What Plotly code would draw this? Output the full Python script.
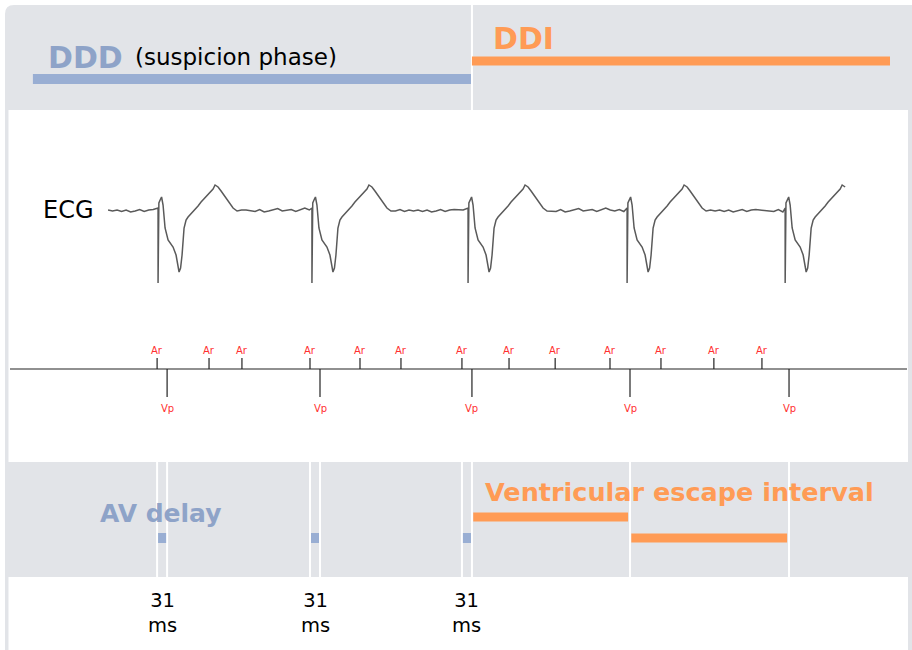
import plotly.graph_objects as go

# ---------------- data ----------------
# marker times (ms)
ar_times_ms = [456, 617, 719, 930, 1085, 1212, 1401, 1547, 1690, 1860, 2018, 2182, 2331]
vp_times_ms = [487, 961, 1432, 1922, 2415]
# AV delays (DDD phase): atrial sense -> ventricular pace
av_start_ms = [456, 930, 1401]
av_delay_ms = [31, 31, 31]
# pacing mode segments
mode_names = ["DDD", "DDI"]
mode_start_ms = [71, 1432]
mode_end_ms = [1429, 2728]
# ventricular escape intervals (DDI phase)
vei_start_ms = [1432, 1922]
vei_end_ms = [1922, 2415]

# ECG: pacing spike times and one beat morphology (offset ms, amplitude a.u.)
ecg_spike_ms = [459, 936, 1420, 1913, 2403]
ecg_start_ms = 304
ecg_end_ms = 2598
beat_offset_ms = [0, 0, 2.5, 7.8, 10.9, 15.5, 21.7, 31, 40.3, 46.5, 55.8, 62, 65.1, 69.8,
                  74.4, 80.6, 86.8, 93, 102.3, 111.6, 124, 133.3, 145.7, 158.1, 170.5,
                  176.7, 186, 195.3, 207.7, 220.1, 232.5, 244.9]
beat_amp = [2, -73, 7, 11, 13, 5, -18, -30, -34, -37, -45, -55, -62, -58,
            -45, -18, -10, -7, -4, -1, 4, 8, 12, 17, 21,
            25, 23, 19, 13, 7, 2, -1]
baseline_wiggle = [0, -1, 0, -1.5, 0, -2, -1, 0.5, -1.5, 0, 0.5, 0, 0, -1, -1.5, 0.5,
                   -2, -1, 0, 1.5, -1, 0, 0.5, -1.5, 0, 2, 0, -1, 0.5, -1.5]
wiggle_step_ms = 14

# ---------------- styling ----------------
W, H = 912, 650
GRAY = "#e2e4e8"
BLUE = "#99aed3"
BLUE_TXT = "#8ea3c8"
ORANGE = "#ff9b55"
RED = "#ff3030"
FONT = "DejaVu Sans"

X0_MS, MS_PER_PX = -31.0, 3.1           # x scale: pixel 0 -> -31 ms
X1_MS = X0_MS + W * MS_PER_PX
px = lambda p: p / W                     # paper x from pixel

# ---------------- build ECG series ----------------
ecg_t, ecg_v = [], []
seg = ecg_start_ms
wi = 0
for s in ecg_spike_ms:
    t = seg
    while t < s - 4:
        ecg_t.append(t); ecg_v.append(baseline_wiggle[wi % len(baseline_wiggle)])
        wi += 1; t += wiggle_step_ms
    last = s
    for o, a in zip(beat_offset_ms, beat_amp):
        if s + o > ecg_end_ms:
            break
        ecg_t.append(s + o); ecg_v.append(a); last = s + o
    seg = last + wiggle_step_ms

fig = go.Figure()

# shapes: card background & panels
r = 9
x0c, x1c, y0c, y1c = px(5), px(914), 5, 660
card = (f"M {x0c} {y0c + r} Q {x0c} {y0c} {x0c + r / W} {y0c} "
        f"L {x1c} {y0c} L {x1c} {y1c} L {x0c} {y1c} Z")
shapes = [
    dict(type="path", path=card, xref="paper", yref="y", fillcolor=GRAY,
         line=dict(width=0), layer="below"),
    dict(type="rect", xref="paper", yref="y", x0=px(8.5), x1=px(908), y0=110, y1=462,
         fillcolor="white", line=dict(width=0), layer="below"),
    dict(type="rect", xref="paper", yref="y", x0=px(8.5), x1=px(908), y0=577, y1=660,
         fillcolor="white", line=dict(width=0), layer="below"),
    # mode switch divider in top band
    dict(type="line", xref="x", yref="y", x0=mode_start_ms[1], x1=mode_start_ms[1],
         y0=5, y1=110, line=dict(color="white", width=2), layer="below"),
]
# white guide lines in lower band at Ar (AV start) and Vp
for t in av_start_ms + vp_times_ms:
    shapes.append(dict(type="line", xref="x", yref="y", x0=t, x1=t, y0=462, y1=577,
                       line=dict(color="white", width=2), layer="below"))

# mode bars
mode_y = [79, 61]
mode_col = [BLUE, ORANGE]
mode_w = [10, 9]
for i in range(2):
    fig.add_trace(go.Scatter(x=[mode_start_ms[i], mode_end_ms[i]], y=[mode_y[i]] * 2,
                             mode="lines", line=dict(color=mode_col[i], width=mode_w[i]),
                             hoverinfo="skip", showlegend=False))

# ECG trace
fig.add_trace(go.Scatter(x=ecg_t, y=ecg_v, yaxis="y2", mode="lines",
                         line=dict(color="#5a5a5a", width=1.5), hoverinfo="skip",
                         showlegend=False))

# timeline
fig.add_trace(go.Scatter(x=[X0_MS + 10 * MS_PER_PX, X0_MS + 907 * MS_PER_PX], y=[369, 369],
                         mode="lines", line=dict(color="#222222", width=1.2),
                         hoverinfo="skip", showlegend=False))
tx, ty = [], []
for t in ar_times_ms:
    tx += [t, t, None]; ty += [358, 369, None]
for t in vp_times_ms:
    tx += [t, t, None]; ty += [369, 397, None]
fig.add_trace(go.Scatter(x=tx, y=ty, mode="lines", line=dict(color="#222222", width=1.2),
                         hoverinfo="skip", showlegend=False))

# AV delay blocks
for s, d in zip(av_start_ms, av_delay_ms):
    fig.add_trace(go.Scatter(x=[s + 3, s + d - 3], y=[538, 538], mode="lines",
                             line=dict(color=BLUE, width=10), hoverinfo="skip",
                             showlegend=False))
# ventricular escape interval bars
vei_y = [517, 538]
for i, (s, e) in enumerate(zip(vei_start_ms, vei_end_ms)):
    fig.add_trace(go.Scatter(x=[s + 4, e - 6], y=[vei_y[i]] * 2, mode="lines",
                             line=dict(color=ORANGE, width=9), hoverinfo="skip",
                             showlegend=False))

ann = []
def A(text, x, y, size, color="black", xanchor="left", xref="paper"):
    ann.append(dict(text=text, x=x, y=y, xref=xref, yref="y", xanchor=xanchor,
                    yanchor="middle", showarrow=False,
                    font=dict(family=FONT, size=size, color=color)))

A("<b>" + mode_names[0] + "</b>", px(46), 57, 30, BLUE_TXT)
A("(suspicion phase)", px(133), 57, 23)
A("<b>" + mode_names[1] + "</b>", px(491), 38, 30, ORANGE)
A("ECG", px(96), 210, 24, xanchor="right")
A("<b>AV delay</b>", px(98), 513, 25, BLUE_TXT)
A("<b>Ventricular escape interval</b>", px(483), 492, 25.5, ORANGE)
for t in ar_times_ms:
    A("Ar", t, 350, 10, RED, "center", "x")
for t in vp_times_ms:
    A("Vp", t, 408, 10, RED, "center", "x")
for s, d in zip(av_start_ms, av_delay_ms):
    A(f"{d}<br>ms", s + d / 2, 613, 19.5, "black", "center", "x")

fig.update_layout(
    width=W, height=H, margin=dict(l=0, r=0, t=0, b=0),
    paper_bgcolor="white", plot_bgcolor="rgba(0,0,0,0)",
    xaxis=dict(range=[X0_MS, X1_MS], visible=False, fixedrange=True),
    yaxis=dict(range=[H, 0], visible=False, fixedrange=True),
    yaxis2=dict(range=[210 - H, 210], overlaying="y", visible=False, fixedrange=True),
    shapes=shapes, annotations=ann, showlegend=False, hovermode=False,
)

fig.write_html("out.html", config={"displayModeBar": False},
               post_script="document.body.style.margin='0';document.body.style.overflow='hidden';")
